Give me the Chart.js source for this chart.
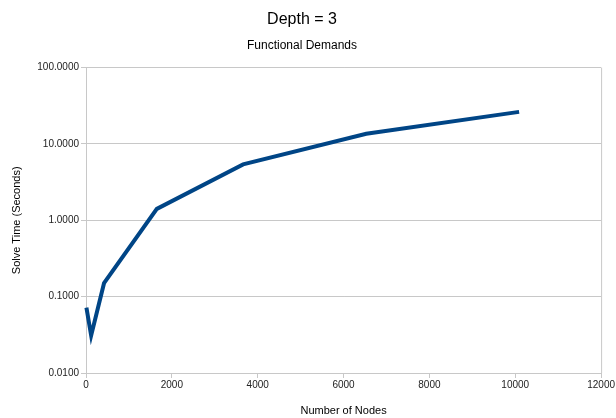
<!DOCTYPE html>
<html>
<head>
<meta charset="utf-8">
<script src="https://cdn.jsdelivr.net/npm/chart.js@4"></script>
<style>
  body { margin: 0; background: #fff; }
  canvas { display: block; }
</style>
</head>
<body>
<canvas id="depth3" width="616" height="418"></canvas>
<script>
// node counts and solve times
const nodes = [10, 120, 420, 1650, 3660, 6530, 10090]
const solveTime = [0.072, 0.031, 0.15, 1.41, 5.4, 13.6, 26.3]

// tick labels
const xTicks = [0, 2000, 4000, 6000, 8000, 10000, 12000]
const yTicks = [0.01, 0.1, 1, 10, 100]

const points = nodes.map((n, i) => ({ x: n, y: solveTime[i] }))

const FONT = "'Liberation Sans', Arial, sans-serif"
const gridColor = '#c8c8c8'

const data = {
  datasets: [{
    label: 'Functional Demands',
    data: points,
    borderColor: '#004586',
    backgroundColor: '#004586',
    borderWidth: 4,
    pointRadius: 0,
    tension: 0,
    clip: false
  }]
}

const config = {
  type: 'line',
  data: data,
  options: {
    responsive: false,
    animation: false,
    layout: { padding: { left: 0, right: 12, top: 0, bottom: 0 } },
    plugins: {
      legend: { display: false },
      tooltip: { enabled: false },
      title: {
        display: true,
        text: 'Depth = 3',
        color: '#000',
        font: { family: FONT, size: 16, weight: 'normal' },
        padding: { top: 10, bottom: 4 }
      },
      subtitle: {
        display: true,
        text: 'Functional Demands',
        color: '#000',
        font: { family: FONT, size: 12, weight: 'normal' },
        padding: { top: 5, bottom: 15 }
      }
    },
    scales: {
      x: {
        type: 'linear',
        min: 0,
        max: 12000,
        afterBuildTicks: s => { s.ticks = xTicks.map(v => ({ value: v })) },
        afterFit: s => { s.height = 45 },
        grid: { color: gridColor, drawOnChartArea: false, tickLength: 5, tickColor: gridColor },
        border: { color: gridColor },
        ticks: {
          color: '#222',
          font: { family: FONT, size: 10 },
          padding: 1,
          maxRotation: 0,
          callback: v => String(v)
        },
        title: {
          display: true,
          text: 'Number of Nodes',
          color: '#000',
          font: { family: FONT, size: 11 },
          padding: { top: 6, bottom: 0 }
        }
      },
      y: {
        type: 'logarithmic',
        min: 0.01,
        max: 100,
        afterBuildTicks: s => { s.ticks = yTicks.map(v => ({ value: v })) },
        afterFit: s => { s.width = 86 },
        grid: { color: gridColor, tickLength: 5, tickColor: gridColor },
        border: { color: gridColor },
        ticks: {
          color: '#222',
          font: { family: FONT, size: 10 },
          padding: 2,
          callback: v => Number(v).toFixed(4)
        },
        title: {
          display: true,
          text: 'Solve Time (Seconds)',
          color: '#000',
          font: { family: FONT, size: 11 },
          padding: { top: 10, bottom: 4 }
        }
      }
    }
  },
  plugins: [{
    // draw right edge line of the plot like the original
    id: 'rightEdge',
    afterDraw(chart) {
      const a = chart.chartArea
      const ctx = chart.ctx
      ctx.save()
      ctx.strokeStyle = gridColor
      ctx.lineWidth = 1
      ctx.beginPath()
      ctx.moveTo(a.right + 0.5, a.top)
      ctx.lineTo(a.right + 0.5, a.bottom)
      ctx.stroke()
      ctx.restore()
    }
  }]
}

const depthChart = new Chart(document.getElementById('depth3'), config)
</script>
</body>
</html>
